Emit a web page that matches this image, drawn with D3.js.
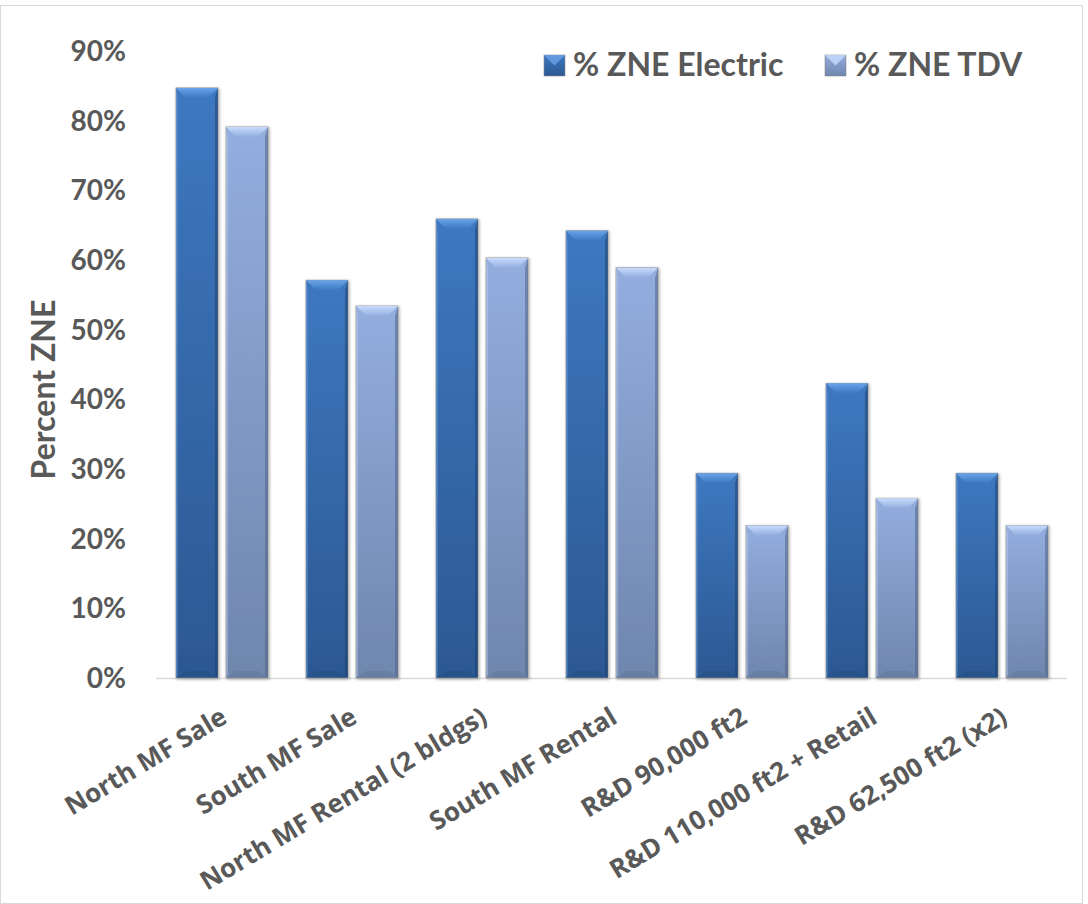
<!DOCTYPE html>
<html>
<head>
<meta charset="utf-8">
<script src="https://cdn.jsdelivr.net/npm/d3@7"></script>
<style>
	body { margin: 0; background: #fff; }
	svg { display: block; }
	.tick-label { font-family: Lato, sans-serif; font-weight: 700; font-size: 28px; fill: #595959; }
	.cat-label { font-family: 'Open Sans', 'DejaVu Sans', sans-serif; font-weight: 700; font-size: 26px; fill: #595959; }
	.legend-label { font-family: Lato, sans-serif; font-weight: 700; font-size: 32px; fill: #595959; }
	.axis-title { font-family: Lato, sans-serif; font-weight: 700; font-size: 32px; fill: #595959; }
</style>
</head>
<body>
<div id="chart"></div>
<script>
	var categories = ["North MF Sale", "South MF Sale", "North MF Rental (2 bldgs)", "South MF Rental",
		"R&D 90,000 ft2", "R&D 110,000 ft2 + Retail", "R&D 62,500 ft2 (x2)"];
	var seriesNames = ["% ZNE Electric", "% ZNE TDV"];
	var electric = [0.847, 0.571, 0.659, 0.642, 0.294, 0.423, 0.294];
	var tdv = [0.791, 0.534, 0.603, 0.589, 0.219, 0.258, 0.219];
	var yTicks = [0, 0.1, 0.2, 0.3, 0.4, 0.5, 0.6, 0.7, 0.8, 0.9];

	var width = 1088, height = 904;
	var plot = { left: 157, right: 1067, top: 51, bottom: 678 };

	// colours per series: top, bottom, bevel light, bevel dark
	var palette = [
		{ top: "#3d78c0", bottom: "#2c5892", light: "#6aa3e8", dark: "#1f4270" },
		{ top: "#93addf", bottom: "#6f86ad", light: "#c8dcfc", dark: "#4f6488" }
	];

	var svg = d3.select("#chart").append("svg")
		.attr("width", width)
		.attr("height", height);

	// outer border
	svg.append("rect")
		.attr("x", 0.5).attr("y", 5.5)
		.attr("width", width - 6).attr("height", height - 6)
		.attr("fill", "none")
		.attr("stroke", "#d9d9d9");

	var defs = svg.append("defs");
	palette.forEach(function(p, i) {
		var g = defs.append("linearGradient")
			.attr("id", "grad" + i)
			.attr("x1", 0).attr("y1", 0).attr("x2", 0).attr("y2", 1);
		g.append("stop").attr("offset", "0%").attr("stop-color", p.top);
		g.append("stop").attr("offset", "100%").attr("stop-color", p.bottom);
		var h = defs.append("linearGradient")
			.attr("id", "bevel" + i)
			.attr("x1", 0).attr("y1", 0).attr("x2", 0).attr("y2", 1);
		h.append("stop").attr("offset", "0%").attr("stop-color", p.light);
		h.append("stop").attr("offset", "100%").attr("stop-color", p.top);
	});
	var shadow = defs.append("filter").attr("id", "shadow")
		.attr("x", "-20%").attr("y", "-5%").attr("width", "140%").attr("height", "110%");
	shadow.append("feDropShadow")
		.attr("dx", 1).attr("dy", 1).attr("stdDeviation", 1.5)
		.attr("flood-color", "#000").attr("flood-opacity", 0.35);

	var x0 = d3.scaleBand()
		.domain(categories)
		.range([plot.left, plot.right])
		.paddingInner(0.292)
		.paddingOuter(0.146);

	var x1 = d3.scaleBand()
		.domain(d3.range(seriesNames.length))
		.range([0, x0.bandwidth()])
		.paddingInner(0.16);

	var y = d3.scaleLinear()
		.domain([0, 0.9])
		.range([plot.bottom, plot.top]);

	// y tick labels
	svg.append("g").selectAll("text")
		.data(yTicks)
		.enter().append("text")
		.attr("class", "tick-label")
		.attr("x", 126)
		.attr("y", function(d) { return y(d); })
		.attr("dy", "0.36em")
		.attr("text-anchor", "end")
		.text(d3.format(".0%"));

	// baseline
	svg.append("line")
		.attr("x1", plot.left - 1).attr("x2", plot.right)
		.attr("y1", plot.bottom + 0.5).attr("y2", plot.bottom + 0.5)
		.attr("stroke", "#d9d9d9").attr("stroke-width", 1.5);

	var rows = categories.map(function(c, i) {
		return { cat: c, values: [electric[i], tdv[i]] };
	});

	var groups = svg.append("g").selectAll("g")
		.data(rows)
		.enter().append("g")
		.attr("transform", function(d) { return "translate(" + x0(d.cat) + ",0)"; });

	var bars = groups.selectAll("g.bar")
		.data(function(d) { return d.values.map(function(v, s) { return { v: v, s: s }; }); })
		.enter().append("g")
		.attr("class", "bar");

	bars.each(function(d) {
		var g = d3.select(this);
		var bx = x1(d.s), bw = x1.bandwidth();
		var top = y(d.v), bot = y(0);
		var p = palette[d.s];
		var bev = 10, side = 3;
		g.append("rect")
			.attr("x", bx).attr("y", top)
			.attr("width", bw).attr("height", bot - top)
			.attr("fill", "url(#grad" + d.s + ")")
			.attr("stroke", "#9a9a9a").attr("stroke-width", 0.8)
			.attr("filter", "url(#shadow)");
		// top bevel
		g.append("polygon")
			.attr("points", [[bx, top], [bx + bw, top], [bx + bw - bev, top + bev], [bx + bev, top + bev]].join(" "))
			.attr("fill", "url(#bevel" + d.s + ")");
		// right edge
		g.append("polygon")
			.attr("points", [[bx + bw, top], [bx + bw, bot], [bx + bw - side, bot - side], [bx + bw - side, top + bev]].join(" "))
			.attr("fill", p.dark).attr("opacity", 0.55);
		// left edge
		g.append("polygon")
			.attr("points", [[bx, top], [bx, bot], [bx + side - 1, bot - side], [bx + side - 1, top + bev]].join(" "))
			.attr("fill", p.light).attr("opacity", 0.35);
		// bottom edge
		g.append("polygon")
			.attr("points", [[bx, bot], [bx + bw, bot], [bx + bw - bev, bot - 7], [bx + bev, bot - 7]].join(" "))
			.attr("fill", p.dark).attr("opacity", 0.25);
	});

	// category labels
	svg.append("g").selectAll("text")
		.data(categories)
		.enter().append("text")
		.attr("class", "cat-label")
		.attr("text-anchor", "end")
		.attr("transform", function(d) {
			return "translate(" + (x0(d) + x0.bandwidth() / 2 + 2) + "," + (plot.bottom + 36) + ") rotate(-31)";
		})
		.attr("dy", "0.35em")
		.text(function(d) { return d; });

	// y axis title
	svg.append("text")
		.attr("class", "axis-title")
		.attr("text-anchor", "middle")
		.attr("transform", "translate(55," + ((plot.top + plot.bottom) / 2 + 25) + ") rotate(-90)")
		.text("Percent ZNE");

	// legend
	var legendX = [544, 825];
	var legend = svg.append("g").selectAll("g")
		.data(seriesNames)
		.enter().append("g")
		.attr("transform", function(d, i) { return "translate(" + legendX[i] + ",55)"; });
	legend.append("rect")
		.attr("width", 21).attr("height", 21)
		.attr("fill", function(d, i) { return "url(#grad" + i + ")"; })
		.attr("stroke", "#8a8a8a").attr("stroke-width", 0.6);
	legend.append("polygon")
		.attr("points", "0,0 21,0 10.5,10.5")
		.attr("fill", function(d, i) { return palette[i].light; })
		.attr("opacity", 0.8);
	legend.append("text")
		.attr("class", "legend-label")
		.attr("x", 29).attr("y", 21)
		.text(function(d) { return d; });
</script>
</body>
</html>
